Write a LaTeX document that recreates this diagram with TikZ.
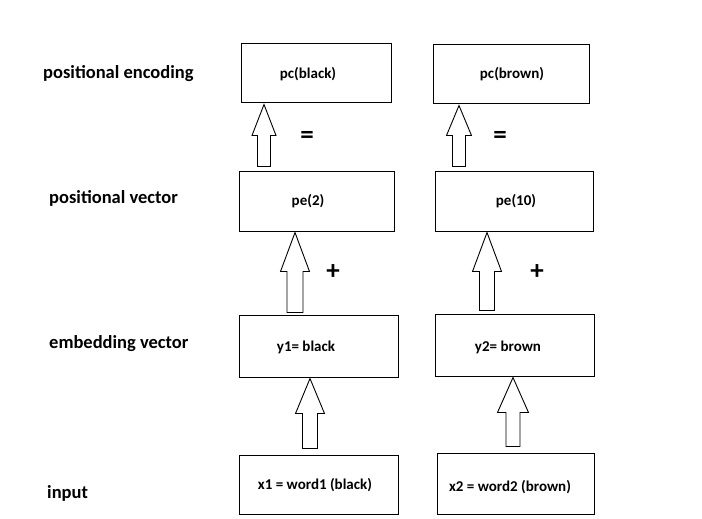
\documentclass[tikz,border=0pt]{standalone}
\usepackage{fontspec}
\setmainfont{Carlito}
\usetikzlibrary{calc}
\tikzset{
  box/.style={draw, line width=1pt, rectangle, inner sep=0pt},
  boxtext/.style={font=\bfseries\fontsize{15}{17}\selectfont, inner sep=0pt},
  rowlabel/.style={font=\bfseries\fontsize{18.5}{21}\selectfont, anchor=west, inner sep=0pt},
  op/.style={font=\bfseries\fontsize{27}{29}\selectfont, inner sep=0pt},
  blockarr/.style={draw, line width=0.9pt, fill=white, line join=miter}
}
% #1 lower node, #2 upper node, #3 tip x, #4 bottom gap, #5 head length, #6 half head, #7 half shaft
\newcommand\blockarrow[7]{%
  \draw[blockarr] let \p1=(#1.north), \p2=(#2.south) in
    ({(#3-#7)*1pt},{\y1+#4pt}) -- ({(#3-#7)*1pt},{\y2-1pt-#5pt}) --
    ({(#3-#6)*1pt},{\y2-1pt-#5pt}) -- ({#3*1pt},{\y2-1pt}) --
    ({(#3+#6)*1pt},{\y2-1pt-#5pt}) -- ({(#3+#7)*1pt},{\y2-1pt-#5pt}) --
    ({(#3+#7)*1pt},{\y1+#4pt}) -- cycle;}
\begin{document}
\begin{tikzpicture}[x=1pt,y=-1pt]
\useasboundingbox (0,0) rectangle (702,519);
% boxes
\node[box, minimum width=150pt, minimum height=59pt] (pc1) at (316,73.5) {};
\node[box, minimum width=156pt, minimum height=59pt] (pc2) at (511,74.5) {};
\node[box, minimum width=155pt, minimum height=60pt] (pe1) at (316.5,201) {};
\node[box, minimum width=158pt, minimum height=60pt] (pe2) at (514,201) {};
\node[box, minimum width=159pt, minimum height=62pt] (y1) at (318.5,346) {};
\node[box, minimum width=159pt, minimum height=62pt] (y2) at (514.5,345) {};
\node[box, minimum width=159pt, minimum height=59pt] (x1) at (318.5,484.5) {};
\node[box, minimum width=157pt, minimum height=61pt] (x2) at (515.5,483.5) {};
% box texts
\node[boxtext] (tpc1) at (308,74) {pc(black)};
\node[boxtext] (tpc2) at (512,74) {pc(brown)};
\node[boxtext] (tpe1) at (308,201.5) {pe(2)};
\node[boxtext] (tpe2) at (516,201.5) {pe(10)};
\node[boxtext] (ty1) at (306,347) {y1= black};
\node[boxtext] (ty2) at (508,347) {y2= brown};
\node[boxtext] (tx1) at (315,485) {x1 = word1 (black)};
\node[boxtext] (tx2) at (510,487) {x2 = word2 (brown)};
% row labels
\node[rowlabel] (lpc) at (43,74) {positional encoding};
\node[rowlabel] (lpe) at (49,198) {positional vector};
\node[rowlabel] (lem) at (49,344) {embedding vector};
\node[rowlabel] (lin) at (47,493) {input};
% block arrows
\blockarrow{pe1}{pc1}{264}{4}{31}{12}{6.5}
\blockarrow{pe2}{pc2}{459}{4}{30}{12.5}{6.5}
\blockarrow{y1}{pe1}{295}{2}{39}{14.5}{8}
\blockarrow{y2}{pe2}{487}{3}{39}{14.5}{7.5}
\blockarrow{x1}{y1}{310}{6}{35}{14.5}{7.5}
\blockarrow{x2}{y2}{513}{6}{35}{15.5}{7}
% operators
\node[op] (eq1) at (307,137) {=};
\node[op] (eq2) at (500,137) {=};
\node[op] (pl1) at (333,272) {+};
\node[op] (pl2) at (537,272) {+};
\end{tikzpicture}
\end{document}
